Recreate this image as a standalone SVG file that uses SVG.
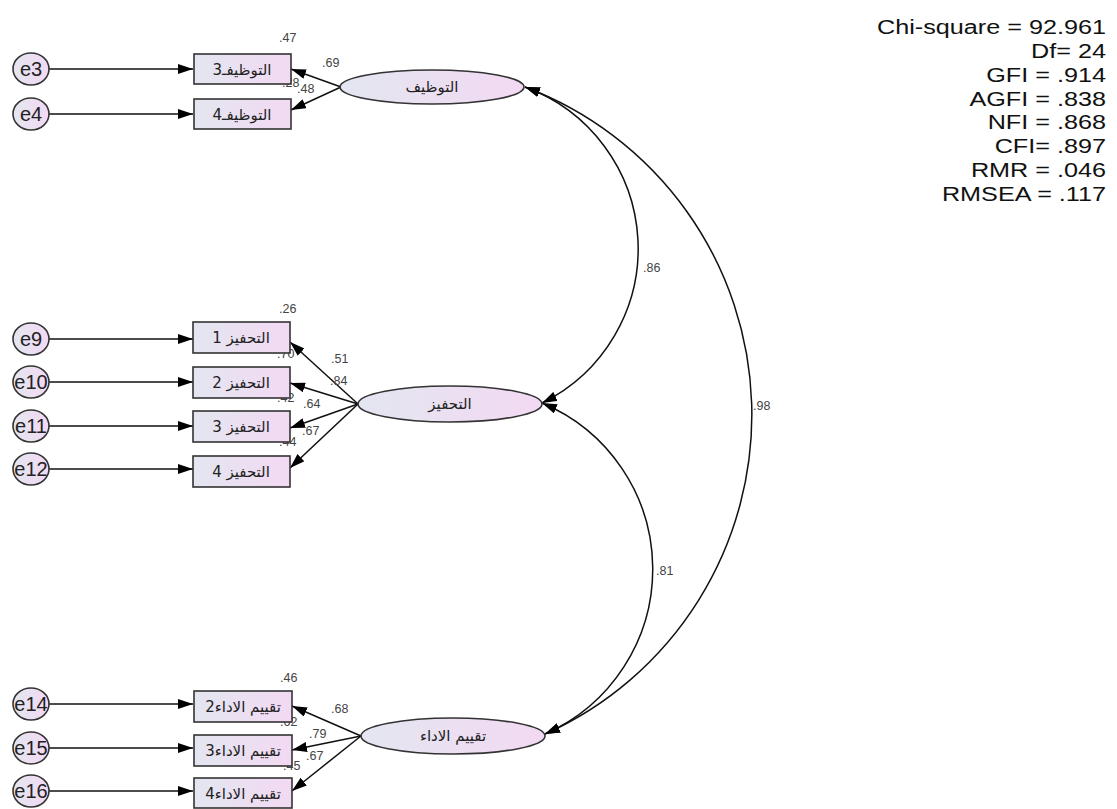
<svg xmlns="http://www.w3.org/2000/svg" width="1117" height="809" viewBox="0 0 1117 809">
<defs>
<linearGradient id="g" x1="0" y1="0" x2="1" y2="0">
<stop offset="0" stop-color="#e3e6f0"/>
<stop offset="1" stop-color="#f3d9f3"/>
</linearGradient>
<marker id="ah" viewBox="0 0 15 10" refX="15" refY="5" markerWidth="15" markerHeight="10" markerUnits="userSpaceOnUse" orient="auto-start-reverse">
<path d="M0,0 L15,5 L0,10 z" fill="#000"/>
</marker>
<style>
.box{fill:url(#g);stroke:#333;stroke-width:1.6}
.lat{fill:url(#g);stroke:#333;stroke-width:1.6}
.err{fill:url(#g);stroke:#333;stroke-width:1.6}
.ln{stroke:#111;stroke-width:1.5;fill:none}
.ar{font-family:"DejaVu Sans",sans-serif;font-size:15px;fill:#222;text-anchor:middle}
.lar{font-family:"DejaVu Sans",sans-serif;font-size:15px;fill:#222;text-anchor:middle}
.e{font-family:"Liberation Sans",Arial,sans-serif;font-size:20px;fill:#222;text-anchor:middle}
.n{font-family:"Liberation Sans",Arial,sans-serif;font-size:12.5px;fill:#444}
.fit{font-family:"Liberation Sans",Arial,sans-serif;font-size:21px;fill:#111;text-anchor:end}
</style>
</defs>
<rect width="1117" height="809" fill="#fff"/>

<g id="connectors">
<line class="ln" x1="48" y1="69" x2="193" y2="69" marker-end="url(#ah)"/>
<line class="ln" x1="48" y1="114" x2="193" y2="114" marker-end="url(#ah)"/>
<line class="ln" x1="48" y1="339" x2="193" y2="339" marker-end="url(#ah)"/>
<line class="ln" x1="48" y1="382" x2="193" y2="382" marker-end="url(#ah)"/>
<line class="ln" x1="48" y1="426" x2="193" y2="426" marker-end="url(#ah)"/>
<line class="ln" x1="48" y1="469" x2="193" y2="469" marker-end="url(#ah)"/>
<line class="ln" x1="48" y1="704" x2="193" y2="704" marker-end="url(#ah)"/>
<line class="ln" x1="48" y1="748" x2="193" y2="748" marker-end="url(#ah)"/>
<line class="ln" x1="48" y1="791" x2="193" y2="791" marker-end="url(#ah)"/>

<line class="ln" x1="341" y1="87" x2="291" y2="69" marker-end="url(#ah)"/>
<line class="ln" x1="341" y1="87" x2="291" y2="110" marker-end="url(#ah)"/>

<line class="ln" x1="358" y1="404" x2="290" y2="342" marker-end="url(#ah)"/>
<line class="ln" x1="358" y1="404" x2="290" y2="383" marker-end="url(#ah)"/>
<line class="ln" x1="358" y1="404" x2="290" y2="428" marker-end="url(#ah)"/>
<line class="ln" x1="358" y1="404" x2="290" y2="468" marker-end="url(#ah)"/>

<line class="ln" x1="361" y1="736" x2="292" y2="706" marker-end="url(#ah)"/>
<line class="ln" x1="361" y1="736" x2="292" y2="750" marker-end="url(#ah)"/>
<line class="ln" x1="361" y1="736" x2="292" y2="791" marker-end="url(#ah)"/>

<path class="ln" d="M525,87 A172,172 0 0 1 542,403" marker-start="url(#ah)" marker-end="url(#ah)"/>
<path class="ln" d="M542,403 A180,180 0 0 1 545,734" marker-start="url(#ah)" marker-end="url(#ah)"/>
<path class="ln" d="M525,87 A350,350 0 0 1 545,734" marker-start="url(#ah)" marker-end="url(#ah)"/>
</g>

<g id="labels">
<text class="n" x="279" y="42">.47</text>
<text class="n" x="322" y="67">.69</text>
<text class="n" x="282" y="87">.28</text>
<text class="n" x="297" y="93">.48</text>
<text class="n" x="279" y="313">.26</text>
<text class="n" x="277" y="358">.70</text>
<text class="n" x="331" y="363">.51</text>
<text class="n" x="330" y="385">.84</text>
<text class="n" x="277" y="402">.42</text>
<text class="n" x="303" y="408">.64</text>
<text class="n" x="302" y="435">.67</text>
<text class="n" x="279" y="446">.44</text>
<text class="n" x="280" y="682">.46</text>
<text class="n" x="331" y="713">.68</text>
<text class="n" x="280" y="726">.62</text>
<text class="n" x="309" y="738">.79</text>
<text class="n" x="306" y="760">.67</text>
<text class="n" x="283" y="770">.45</text>
<text class="n" x="643" y="272">.86</text>
<text class="n" x="656" y="575">.81</text>
<text class="n" x="753" y="410">.98</text>
</g>

<g id="e3"><ellipse class="err" cx="31" cy="69" rx="18" ry="16"/><text class="e" x="31" y="76">e3</text></g>
<g id="e4"><ellipse class="err" cx="31" cy="114" rx="18" ry="16"/><text class="e" x="31" y="121">e4</text></g>
<g id="e9"><ellipse class="err" cx="31" cy="339" rx="18" ry="16"/><text class="e" x="31" y="346">e9</text></g>
<g id="e10"><ellipse class="err" cx="31" cy="382" rx="18" ry="16"/><text class="e" x="31" y="389">e10</text></g>
<g id="e11"><ellipse class="err" cx="31" cy="426" rx="18" ry="16"/><text class="e" x="31" y="433">e11</text></g>
<g id="e12"><ellipse class="err" cx="31" cy="469" rx="18" ry="16"/><text class="e" x="31" y="476">e12</text></g>
<g id="e14"><ellipse class="err" cx="31" cy="704" rx="18" ry="16"/><text class="e" x="31" y="711">e14</text></g>
<g id="e15"><ellipse class="err" cx="31" cy="748" rx="18" ry="16"/><text class="e" x="31" y="755">e15</text></g>
<g id="e16"><ellipse class="err" cx="31" cy="791" rx="18" ry="16"/><text class="e" x="31" y="798">e16</text></g>

<g id="tawzif3"><rect class="box" x="194" y="54" width="97" height="30"/><text class="ar" x="242" y="75">التوظيفـ3</text></g>
<g id="tawzif4"><rect class="box" x="194" y="99" width="97" height="30"/><text class="ar" x="242" y="120">التوظيفـ4</text></g>
<g id="tahfiz1"><rect class="box" x="193" y="322" width="97" height="31"/><text class="ar" x="241" y="343">التحفيز 1</text></g>
<g id="tahfiz2"><rect class="box" x="193" y="367" width="97" height="31"/><text class="ar" x="241" y="388">التحفيز 2</text></g>
<g id="tahfiz3"><rect class="box" x="193" y="411" width="97" height="31"/><text class="ar" x="241" y="432">التحفيز 3</text></g>
<g id="tahfiz4"><rect class="box" x="193" y="456" width="97" height="31"/><text class="ar" x="241" y="477">التحفيز 4</text></g>
<g id="taqyim2"><rect class="box" x="194" y="691" width="98" height="31"/><text class="ar" x="243" y="712">تقييم الاداء2</text></g>
<g id="taqyim3"><rect class="box" x="194" y="735" width="98" height="31"/><text class="ar" x="243" y="756">تقييم الاداء3</text></g>
<g id="taqyim4"><rect class="box" x="194" y="778" width="98" height="30"/><text class="ar" x="243" y="799">تقييم الاداء4</text></g>

<g id="tawzif"><ellipse class="lat" cx="432" cy="87" rx="92" ry="17"/><text class="lar" x="432" y="92">التوظيف</text></g>
<g id="tahfiz"><ellipse class="lat" cx="450" cy="404" rx="92" ry="18"/><text class="lar" x="450" y="409">التحفيز</text></g>
<g id="taqyim"><ellipse class="lat" cx="453" cy="736" rx="92" ry="18"/><text class="lar" x="453" y="741">تقييم الاداء</text></g>

<g id="fit" transform="translate(1106,0) scale(1.2,1)">
<text class="fit" x="0" y="34">Chi-square = 92.961</text>
<text class="fit" x="0" y="58">Df= 24</text>
<text class="fit" x="0" y="82">GFI = .914</text>
<text class="fit" x="0" y="106">AGFI = .838</text>
<text class="fit" x="0" y="129">NFI = .868</text>
<text class="fit" x="0" y="153">CFI= .897</text>
<text class="fit" x="0" y="177">RMR = .046</text>
<text class="fit" x="0" y="201">RMSEA = .117</text>
</g>
</svg>
